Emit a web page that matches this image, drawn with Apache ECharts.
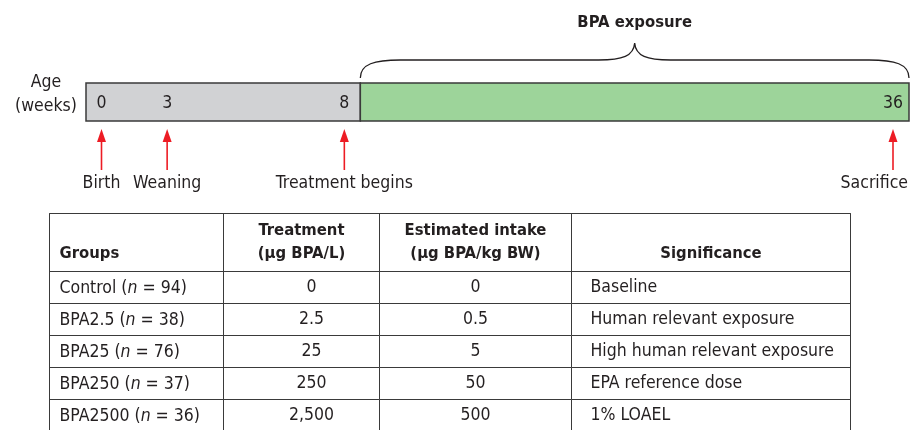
<!DOCTYPE html>
<html>
<head>
<meta charset="utf-8">
<script src="https://cdn.jsdelivr.net/npm/echarts@6/dist/echarts.min.js"></script>
<style>html,body{margin:0;padding:0;background:#fff}#c{width:910px;height:430px}</style>
</head>
<body>
<div id="c"></div>
<script>
// ---------------- data ----------------
const axisTitle = ['Age', '(weeks)'];
const weekMarks = [0, 3, 8, 36];
const phaseStart = [0, 8];
const phaseEnd = [8, 36];
const braceLabel = 'BPA exposure';
const eventNames = ['Birth', 'Weaning', 'Treatment begins', 'Sacrifice'];
const eventWeeks = [0, 3, 8, 36];

const columnHeaders = ['Groups', 'Treatment\n(µg BPA/L)', 'Estimated intake\n(µg BPA/kg BW)', 'Significance'];
const groupNames = ['Control', 'BPA2.5', 'BPA25', 'BPA250', 'BPA2500'];
const groupN = [94, 38, 76, 37, 36];
const treatmentDose = [0, 2.5, 25, 250, 2500];      // µg BPA/L
const estimatedIntake = [0, 0.5, 5, 50, 500];       // µg BPA/kg BW
const significance = ['Baseline', 'Human relevant exposure', 'High human relevant exposure', 'EPA reference dose', '1% LOAEL'];

// ---------------- fonts ----------------
const ctx = document.createElement('canvas').getContext('2d');
function tw(font, s) { ctx.font = font; return ctx.measureText(s).width; }
function has(fam) {
  const s = 'mmmmmwwwiil 0123 BPA';
  return ['monospace', 'serif'].some(b => tw('100px "' + fam + '", ' + b, s) !== tw('100px ' + b, s));
}
const FAM = has('Liberation Sans Narrow') ? '"Liberation Sans Narrow"' :
            (has('DejaVu Sans Condensed') ? '"DejaVu Sans Condensed"' : '"Liberation Sans"');
const FS = Math.round(2 * 100 * (247 + 140 + 120) /
  (tw('100px ' + FAM, 'High human relevant exposure') + tw('100px ' + FAM, 'Treatment begins') + tw('100px ' + FAM, 'Control (n = 94)'))) / 2;
const FB = Math.round(2 * 100 * (114 + 146) /
  (tw('bold 100px ' + FAM, 'BPA exposure') + tw('bold 100px ' + FAM, 'Estimated intake'))) / 2;

const INK = '#231f20';
const GRAY = '#d1d2d4';
const GREEN = '#9dd49a';
const EDGE = '#3a3a3a';
const RED = '#ed1c24';
const RULE = '#3a3a3a';

// ---------------- timeline helpers ----------------
const X_MIN = 0, X_MAX = 36;
function anchorDx(w) {           // week labels sit inset from segment edges
  if (w === X_MIN) return 15.5;
  if (phaseEnd.indexOf(w) >= 0) return -16;
  return 0;
}
function txt(text, x, y, opts) {
  return { type: 'text', style: Object.assign({ text, x, y, fill: INK, fontFamily: FAM, fontSize: FS, align: 'center', verticalAlign: 'middle' }, opts || {}) };
}

const phaseSeries = {
  type: 'custom', name: 'phases', silent: true,
  data: phaseStart.map((s, i) => [s, phaseEnd[i], i]),
  renderItem: function (params, api) {
    const p0 = api.coord([api.value(0), 1]);
    const p1 = api.coord([api.value(1), 0]);
    return { type: 'rect', shape: { x: p0[0], y: p0[1], width: p1[0] - p0[0], height: p1[1] - p0[1] },
      style: { fill: api.value(2) === 0 ? GRAY : GREEN, stroke: EDGE, lineWidth: 1.5 } };
  }
};

const weekSeries = {
  type: 'custom', name: 'weeks', silent: true, z: 3,
  data: weekMarks.map(w => [w]),
  renderItem: function (params, api) {
    const w = api.value(0);
    const p = api.coord([w, 0.5]);
    return txt(String(w), p[0] + anchorDx(w), p[1] + 1);
  }
};

const eventSeries = {
  type: 'custom', name: 'events', silent: true,
  data: eventWeeks.map((w, i) => [w, i]),
  renderItem: function (params, api) {
    const w = api.value(0), i = api.value(1);
    const p = api.coord([w, 0]);
    const x = p[0] + anchorDx(w), yb = p[1];
    const label = w === X_MAX
      ? txt(eventNames[i], p[0] - 1, yb + 62, { align: 'right' })
      : txt(eventNames[i], x, yb + 62);
    return { type: 'group', children: [
      { type: 'line', shape: { x1: x, y1: yb + 18, x2: x, y2: yb + 49 }, style: { stroke: RED, lineWidth: 1.6 } },
      { type: 'polygon', shape: { points: [[x, yb + 8], [x - 4.5, yb + 21], [x + 4.5, yb + 21]] }, style: { fill: RED } },
      label
    ] };
  }
};

const braceSeries = {
  type: 'custom', name: 'brace', silent: true,
  data: [[phaseStart[1], phaseEnd[1]]],
  renderItem: function (params, api) {
    const a = api.coord([api.value(0), 1]);
    const b = api.coord([api.value(1), 1]);
    const ax = a[0], bx = b[0], y0 = a[1];
    const m = (ax + bx) / 2;
    const yE = y0 - 5, yH = y0 - 23, yP = y0 - 40;
    const path = 'M' + ax + ',' + yE +
      ' C' + ax + ',' + (yH + 4) + ' ' + (ax + 14) + ',' + yH + ' ' + (ax + 40) + ',' + yH +
      ' L' + (m - 36) + ',' + yH +
      ' C' + (m - 12) + ',' + yH + ' ' + (m - 1) + ',' + (yH - 4) + ' ' + m + ',' + yP +
      ' C' + (m + 1) + ',' + (yH - 4) + ' ' + (m + 12) + ',' + yH + ' ' + (m + 36) + ',' + yH +
      ' L' + (bx - 40) + ',' + yH +
      ' C' + (bx - 14) + ',' + yH + ' ' + bx + ',' + (yH + 4) + ' ' + bx + ',' + yE;
    return { type: 'group', children: [
      { type: 'path', shape: { pathData: path }, style: { fill: 'none', stroke: INK, lineWidth: 1.3 } },
      txt(braceLabel, m, y0 - 60, { fontWeight: 'bold', fontSize: FB })
    ] };
  }
};

// ---------------- table (matrix) ----------------
const fmt = v => v.toLocaleString('en-US');
const colWidths = [156, 192, 279];
const rich = {
  t: { fontFamily: FAM, fontSize: FS, color: INK, align: 'left', verticalAlign: 'middle', lineHeight: 24 },
  i: { fontFamily: FAM, fontSize: FS, color: INK, fontStyle: 'italic', align: 'left', verticalAlign: 'middle', lineHeight: 24 }
};
const groupLabels = groupNames.map((g, i) => '{t|' + g + ' (}{i|n}{t| = ' + groupN[i] + ')}');
const bodyCols = [treatmentDose.map(fmt), estimatedIntake.map(fmt), significance];
const colLabel = [
  { position: 'inside', padding: [0, 0, 0, 20] },
  { position: 'inside' },
  { position: 'insideLeft', distance: 16 }
];
const bodyData = [];
bodyCols.forEach((col, c) => col.forEach((v, r) => {
  bodyData.push({ coord: [c, r], value: v, label: colLabel[c] });
}));
const cellStyle = { color: '#fff', borderColor: RULE, borderWidth: 1 };
const divider = { color: RULE, width: 1 };
const headLabel = { fontFamily: FAM, fontSize: FB, fontWeight: 'bold', color: INK, lineHeight: 23,
  overflow: 'none', lineOverflow: 'none' };

const option = {
  animation: false,
  textStyle: { fontFamily: FAM, color: INK },
  grid: [{ left: 86, top: 83, width: 823, height: 38 }],
  xAxis: [{
    type: 'value', min: X_MIN, max: X_MAX, show: false,
    breaks: [{ start: 1, end: 1.9, gap: 0 }, { start: 15, end: 28.8, gap: 0 }],
    breakArea: { show: false }
  }],
  yAxis: [{
    type: 'value', min: 0, max: 1,
    axisLine: { show: false }, axisTick: { show: false }, axisLabel: { show: false }, splitLine: { show: false },
    name: '{a|' + axisTitle[0] + '}\n{a|' + axisTitle[1] + '}',
    nameLocation: 'middle', nameRotate: 0, nameGap: 8,
    nameTextStyle: { align: 'right', verticalAlign: 'middle', padding: [0, 0, 16, 0],
      rich: { a: { width: 64, align: 'center', fontSize: FS, lineHeight: 24, fontFamily: FAM, color: INK } } }
  }],
  matrix: {
    left: 49, top: 213, width: 801, height: 218,
    backgroundStyle: { color: '#fff', borderColor: RULE, borderWidth: 1 },
    x: {
      data: columnHeaders.slice(1).map((h, i) => ({ value: h, size: colWidths[i] })),
      levelSize: 58,
      itemStyle: cellStyle,
      dividerLineStyle: divider,
      label: Object.assign({ position: 'insideBottom', distance: 4 }, headLabel)
    },
    y: {
      data: groupLabels,
      levelSize: 174,
      itemStyle: cellStyle,
      dividerLineStyle: divider,
      label: { position: 'insideLeft', distance: 10, padding: [5, 0, 0, 0], overflow: 'none',
        fontFamily: FAM, fontSize: FS, color: INK, rich: rich }
    },
    corner: {
      data: [{ coord: [-1, -1], value: columnHeaders[0] }],
      itemStyle: cellStyle,
      label: Object.assign({ position: 'insideBottomLeft', distance: 6, padding: [0, 0, 0, 4] }, headLabel)
    },
    body: {
      data: bodyData,
      itemStyle: cellStyle,
      label: { fontFamily: FAM, fontSize: FS, color: INK, overflow: 'none' }
    }
  },
  series: [phaseSeries, weekSeries, eventSeries, braceSeries]
};

const chart = echarts.init(document.getElementById('c'), null, { renderer: 'canvas' });
chart.setOption(option);
</script>
</body>
</html>
